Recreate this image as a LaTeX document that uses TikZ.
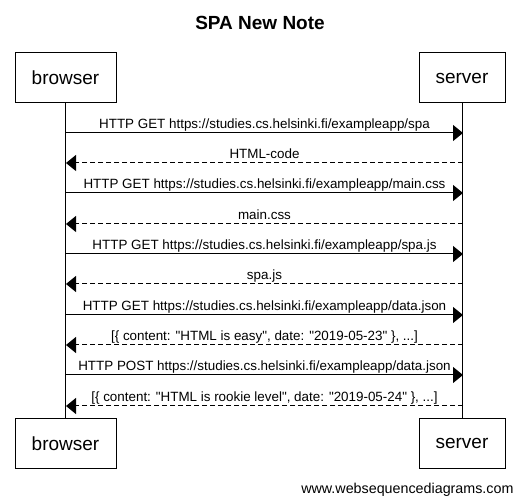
\documentclass[tikz,border=0pt]{standalone}
\usepackage{fontspec}
\setmainfont{Liberation Sans}
\usetikzlibrary{arrows.meta}

\begin{document}
\begin{tikzpicture}[x=1pt, y=-1pt, line width=1pt,
  actor/.style = {draw, rectangle, minimum height=50pt, font=\fontsize{19}{22}\selectfont},
  req/.style = {-{Triangle[length=10pt, width=16pt]}},
  resp/.style = {-{Triangle[length=10pt, width=16pt]}, dash pattern=on 5pt off 3pt},
  lbl/.style = {midway, anchor=base, yshift=4pt, inner sep=0pt, font=\fontsize{13.4}{15}\selectfont}]
\useasboundingbox (0,0) rectangle (520,502);
\node[font=\bfseries\fontsize{19}{22}\selectfont] (title) at (260,23) {SPA New Note};
\node[actor, minimum width=101pt] (browser) at (65.5,78) {browser};
\node[actor, minimum width=86pt] (server) at (462,78) {server};
\node[actor, minimum width=101pt] (browser2) at (65.5,443.5) {browser};
\node[actor, minimum width=86pt] (server2) at (462,443.5) {server};
\draw (browser) -- (browser2);
\draw (server) -- (server2);
% points on the lifelines
\coordinate (b1) at (66,133);  \coordinate (s1) at (463,133);
\coordinate (b2) at (66,163);  \coordinate (s2) at (463,163);
\coordinate (b3) at (66,193);  \coordinate (s3) at (463,193);
\coordinate (b4) at (66,224);  \coordinate (s4) at (463,224);
\coordinate (b5) at (66,254);  \coordinate (s5) at (463,254);
\coordinate (b6) at (66,284);  \coordinate (s6) at (463,284);
\coordinate (b7) at (66,315);  \coordinate (s7) at (463,315);
\coordinate (b8) at (66,345);  \coordinate (s8) at (463,345);
\coordinate (b9) at (66,375);  \coordinate (s9) at (463,375);
\coordinate (b10) at (66,406); \coordinate (s10) at (463,406);
% messages
\draw[req] (b1) -- node[lbl] {HTTP GET https://studies.cs.helsinki.fi/exampleapp/spa} (s1);
\draw[resp] (s2) -- node[lbl] {HTML-code} (b2);
\draw[req] (b3) -- node[lbl] {HTTP GET https://studies.cs.helsinki.fi/exampleapp/main.css} (s3);
\draw[resp] (s4) -- node[lbl] {main.css} (b4);
\draw[req] (b5) -- node[lbl] {HTTP GET https://studies.cs.helsinki.fi/exampleapp/spa.js} (s5);
\draw[resp] (s6) -- node[lbl] {spa.js} (b6);
\draw[req] (b7) -- node[lbl] {HTTP GET https://studies.cs.helsinki.fi/exampleapp/data.json} (s7);
\draw[resp] (s8) -- node[lbl] {[\{ content: \textquotedbl HTML is easy\textquotedbl, date: \textquotedbl 2019-05-23\textquotedbl\ \}, ...]} (b8);
\draw[req] (b9) -- node[lbl] {HTTP POST https://studies.cs.helsinki.fi/exampleapp/data.json} (s9);
\draw[resp] (s10) -- node[lbl] {[\{ content: \textquotedbl HTML is rookie level\textquotedbl, date: \textquotedbl 2019-05-24\textquotedbl\ \}, ...]} (b10);
\node[anchor=east, inner sep=0pt, font=\fontsize{14.3}{16}\selectfont] (footer) at (514,490) {www.websequencediagrams.com};
\end{tikzpicture}
\end{document}
